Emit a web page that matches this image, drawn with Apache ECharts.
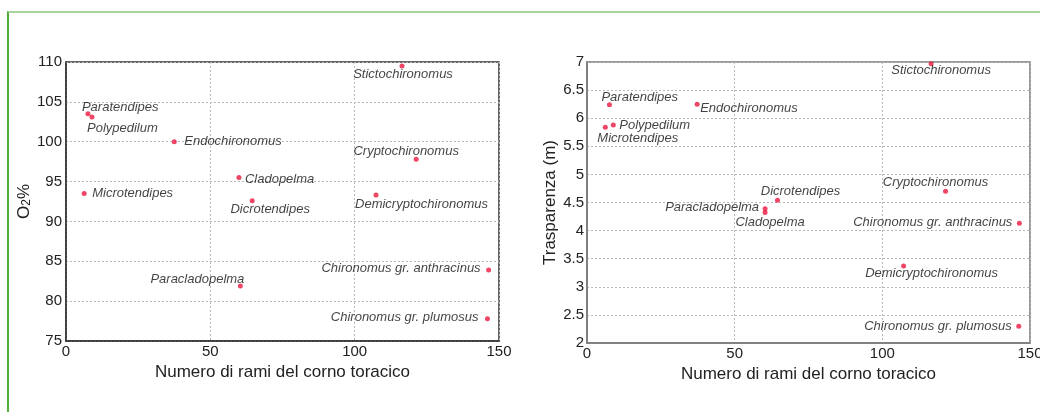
<!DOCTYPE html>
<html>
<head>
<meta charset="utf-8">
<script src="https://cdn.jsdelivr.net/npm/echarts@6/dist/echarts.min.js"></script>
<style>
  html, body { margin: 0; padding: 0; background: #fff; }
  #chart { width: 1040px; height: 412px; position: relative; }
  #frame { position: absolute; left: 7px; top: 11px; right: 0; bottom: 0;
           border-top: 2px solid #a6d49c; border-left: 2px solid #4fac3d; pointer-events: none; }
</style>
</head>
<body>
<div id="chart"></div>
<div id="frame"></div>
<script>
// dati
const generi = ['Stictochironomus', 'Paratendipes', 'Polypedilum', 'Endochironomus', 'Cryptochironomus',
  'Cladopelma', 'Microtendipes', 'Dicrotendipes', 'Demicryptochironomus', 'Chironomus gr. anthracinus',
  'Paracladopelma', 'Chironomus gr. plumosus'];
const rami = [116.4, 7.6, 9.0, 37.5, 121.3, 59.9, 6.3, 64.5, 107.4, 146.4, 60.4, 146.0];
const ramiT = [116.5, 7.6, 8.9, 37.3, 121.4, 60.3, 6.2, 64.5, 107.2, 146.4, 60.3, 146.2];
const ossigeno = [109.5, 103.5, 103.1, 100.0, 97.8, 95.5, 93.5, 92.6, 93.3, 83.9, 81.9, 77.8];
const trasparenza = [6.97, 6.24, 5.88, 6.25, 4.70, 4.32, 5.84, 4.54, 3.37, 4.13, 4.39, 2.30];

// posizione etichette: [align, dx, dy] rispetto al punto
const etichetteO2 = {
  'Stictochironomus': ['center', 1, 8],
  'Paratendipes': ['left', -6, -6],
  'Polypedilum': ['left', -5, 11],
  'Endochironomus': ['left', 10, 0],
  'Cryptochironomus': ['center', -10, -8],
  'Cladopelma': ['left', 6, 2],
  'Microtendipes': ['left', 8, 0],
  'Dicrotendipes': ['center', 18, 9],
  'Demicryptochironomus': ['left', -21, 9],
  'Chironomus gr. anthracinus': ['right', -8, -2],
  'Paracladopelma': ['right', 4, -7],
  'Chironomus gr. plumosus': ['right', -9, -1]
};
const etichetteTr = {
  'Stictochironomus': ['center', 10, 7],
  'Paratendipes': ['left', -8, -7],
  'Polypedilum': ['left', 6, 0],
  'Endochironomus': ['left', 3, 4],
  'Cryptochironomus': ['center', -10, -9],
  'Cladopelma': ['center', 5, 10],
  'Microtendipes': ['left', -8, 11],
  'Dicrotendipes': ['center', 23, -9],
  'Demicryptochironomus': ['center', 28, 7],
  'Chironomus gr. anthracinus': ['right', -7, -1],
  'Paracladopelma': ['right', -6, -1],
  'Chironomus gr. plumosus': ['right', -7, 0]
};

const font = 'Liberation Sans, Arial, Helvetica, sans-serif';
const dimPunto = 5;

function punti(xs, ys, pos) {
  return generi.map((g, i) => {
    const p = pos[g];
    return {
      name: g,
      value: [xs[i], ys[i]],
      // posizione in pixel dal bordo in alto a sinistra del simbolo
      label: { align: p[0], verticalAlign: 'middle', position: [p[1] + dimPunto / 2, p[2] + dimPunto / 2] }
    };
  });
}

function asseX(idx, colore) {
  return {
    gridIndex: idx, type: 'value', min: 0, max: 150, interval: 50,
    name: 'Numero di rami del corno toracico', nameLocation: 'middle', nameGap: 19,
    nameTextStyle: { fontFamily: font, fontSize: 17, color: '#222' },
    axisLine: { show: true, lineStyle: { color: colore, width: 1.5 } },
    axisTick: { show: false },
    axisLabel: { fontFamily: font, fontSize: 15, color: '#222', margin: 3 },
    splitLine: { show: true, lineStyle: { type: [2, 2], color: '#b8b8b8' } }
  };
}

function asseY(idx, min, max, step, colore) {
  return {
    gridIndex: idx, type: 'value', min: min, max: max, interval: step,
    axisLine: { show: true, lineStyle: { color: colore, width: 1.5 } },
    axisTick: { show: false },
    axisLabel: { fontFamily: font, fontSize: 15, color: '#222', margin: 4 },
    splitLine: { show: true, lineStyle: { type: [2, 2], color: '#b8b8b8' } }
  };
}

function serie(idx, dati) {
  return {
    type: 'scatter', xAxisIndex: idx, yAxisIndex: idx,
    symbolSize: dimPunto, itemStyle: { color: '#ec1840' },
    data: dati,
    label: {
      show: true, formatter: '{b}',
      fontFamily: font, fontStyle: 'italic', fontSize: 13, color: '#111'
    },
    labelLayout: { hideOverlap: false }
  };
}

const yO2 = asseY(0, 75, 110, 5, '#333');
yO2.name = '{a|O}{b|2}{a|%}';
yO2.nameLocation = 'middle';
yO2.nameGap = 31;
yO2.nameTextStyle = {
  fontFamily: font, color: '#222',
  rich: {
    a: { fontFamily: font, fontSize: 17, color: '#222' },
    b: { fontFamily: font, fontSize: 12, color: '#222', verticalAlign: 'bottom', padding: [6, 0, 0, 0] }
  }
};

const yTr = asseY(1, 2, 7, 0.5, '#777');
yTr.name = 'Trasparenza (m)';
yTr.nameLocation = 'middle';
yTr.nameGap = 27;
yTr.nameTextStyle = { fontFamily: font, fontSize: 17, color: '#222' };
yTr.axisLabel.margin = 3;

const chart = echarts.init(document.getElementById('chart'));
chart.setOption({
  animation: false,
  backgroundColor: '#fff',
  grid: [
    { left: 66, right: 541, top: 62, bottom: 71, outerBoundsMode: 'none', show: true,
      borderColor: '#333', borderWidth: 1.5, backgroundColor: 'transparent' },
    { left: 587, right: 10, top: 62, bottom: 69, outerBoundsMode: 'none', show: true,
      borderColor: '#777', borderWidth: 1.5, backgroundColor: 'transparent' }
  ],
  xAxis: [asseX(0, '#333'), asseX(1, '#777')],
  yAxis: [yO2, yTr],
  series: [
    serie(0, punti(rami, ossigeno, etichetteO2)),
    serie(1, punti(ramiT, trasparenza, etichetteTr))
  ]
});
</script>
</body>
</html>
